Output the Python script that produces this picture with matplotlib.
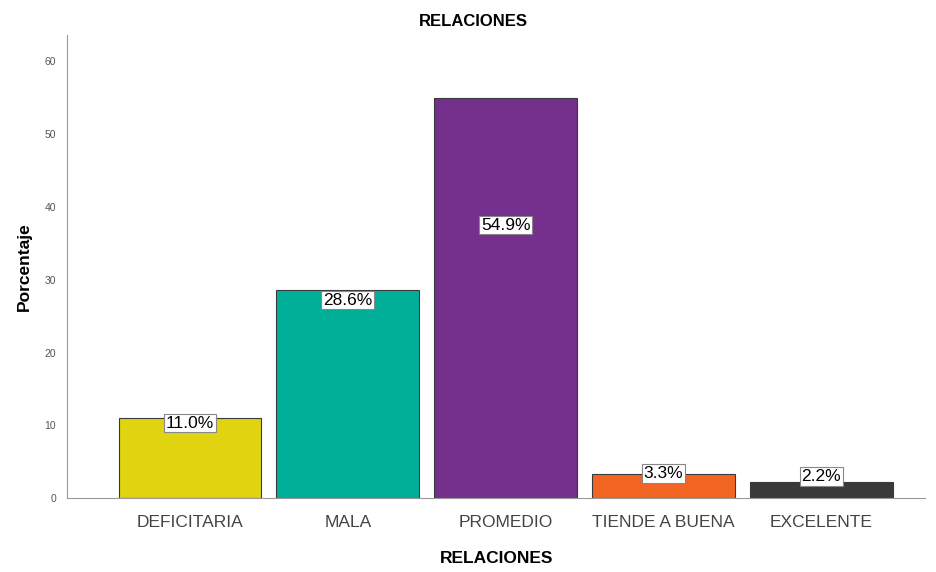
import numpy as np
import matplotlib.pyplot as plt

plt.rcParams["font.family"] = ["Liberation Sans", "DejaVu Sans"]

# categories and percentages for RELACIONES
categorias = ["DEFICITARIA", "MALA", "PROMEDIO", "TIENDE A BUENA", "EXCELENTE"]
porcentajes = [11.0, 28.6, 54.9, 3.3, 2.2]
colores = ["#E0D410", "#00AF98", "#74308C", "#F26522", "#3A3A3A"]

fig = plt.figure(figsize=(9.37, 5.72), dpi=100)
ax = fig.add_axes([0.0715, 0.129, 0.916, 0.81])

x = np.arange(len(categorias))
bars = ax.bar(x, porcentajes, width=0.905, color=colores, edgecolor="#3a3a3a", linewidth=0.8, zorder=2)

# label placement (SPSS puts them near the top, the tall one in the middle)
label_y = [10.3, 27.2, 37.5, 3.4, 3.0]
for xi, p, ly in zip(x, porcentajes, label_y):
    ax.text(xi, ly, f"{p:.1f}%", ha="center", va="center", fontsize=12.5,
            color="black", zorder=3,
            bbox=dict(boxstyle="square,pad=0.1", facecolor="white", edgecolor="#888888", linewidth=0.8))

ax.set_xlim(-0.78, 4.66)
ax.set_ylim(0, 63.6)
ax.set_yticks([0, 10, 20, 30, 40, 50, 60])
ax.set_xticks(x)
ax.set_xticklabels(categorias, fontsize=12.5, color="#444444")
ax.tick_params(axis="y", labelsize=7.5, colors="#555555", length=0, pad=8)
ax.tick_params(axis="x", length=0, pad=12)

for s in ["top", "right"]:
    ax.spines[s].set_visible(False)
ax.spines["left"].set_color("#999999")
ax.spines["bottom"].set_color("#999999")

ax.set_ylabel("Porcentaje", fontsize=12.5, fontweight="bold", labelpad=9)
ax.set_xlabel("RELACIONES", fontsize=12.5, fontweight="bold", labelpad=15)
fig.text(0.505, 0.962, "RELACIONES", ha="center", va="center",
         fontsize=12, fontweight="bold")

fig.savefig("out.png", dpi=100)
